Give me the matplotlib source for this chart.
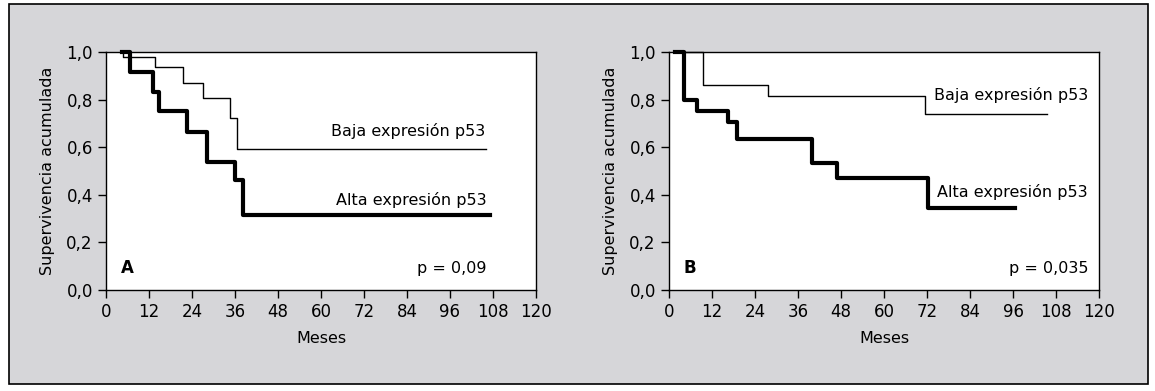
import matplotlib
matplotlib.use("Agg")
import matplotlib.pyplot as plt
from matplotlib.patches import Rectangle

plt.rcParams['font.family'] = ['DejaVu Sans']

# Kaplan-Meier steps (months, cumulative survival)
a_baja_t = [4.4, 4.8, 13.7, 21.6, 27.2, 34.6, 36.6, 106.0]
a_baja_s = [1.0, 0.978, 0.936, 0.868, 0.805, 0.721, 0.592, 0.592]
a_alta_t = [4.4, 6.7, 13.2, 14.9, 22.5, 28.3, 36.0, 38.3, 107.2]
a_alta_s = [1.0, 0.917, 0.833, 0.753, 0.665, 0.539, 0.462, 0.315, 0.315]

b_baja_t = [1.7, 9.6, 27.7, 71.4, 105.4]
b_baja_s = [1.0, 0.861, 0.815, 0.739, 0.739]
b_alta_t = [1.7, 4.2, 7.9, 16.5, 18.9, 39.8, 46.8, 72.4, 96.6]
b_alta_s = [1.0, 0.798, 0.753, 0.707, 0.633, 0.535, 0.472, 0.343, 0.343]

x_ticks = list(range(0, 121, 12))
y_ticks = [0.0, 0.2, 0.4, 0.6, 0.8, 1.0]
y_labels = ["0,0", "0,2", "0,4", "0,6", "0,8", "1,0"]

panels = [
    dict(left=106, baja=(a_baja_t, a_baja_s), alta=(a_alta_t, a_alta_s),
         letter="A", p="p = 0,09", baja_xy=(105.8, 0.668), alta_xy=(106.3, 0.378)),
    dict(left=669, baja=(b_baja_t, b_baja_s), alta=(b_alta_t, b_alta_s),
         letter="B", p="p = 0,035", baja_xy=(116.9, 0.82), alta_xy=(116.9, 0.41)),
]

W, H = 1155, 391
fig = plt.figure(figsize=(W / 100, H / 100), dpi=100)
fig.patch.set_facecolor("white")
# gray framed panel behind both plots
fig.patches.append(Rectangle((9 / W, 1 - 384 / H), (1148 - 9) / W, (384 - 4) / H,
                             transform=fig.transFigure, facecolor="#d6d6d9",
                             edgecolor="black", linewidth=1.2, zorder=-10))

for p in panels:
    ax = fig.add_axes([p["left"] / W, 1 - 290 / H, 430 / W, 238 / H])
    ax.set_zorder(5)
    ax.set_facecolor("white")
    ax.step(*p["baja"], where="post", color="black", lw=1.0, clip_on=False)
    ax.step(*p["alta"], where="post", color="black", lw=3.0, clip_on=False)
    ax.set_xlim(0, 120)
    ax.set_ylim(0, 1.0)
    ax.set_xticks(x_ticks)
    ax.set_yticks(y_ticks)
    ax.set_yticklabels(y_labels)
    ax.tick_params(direction="out", length=6, width=1, labelsize=12, color="black")
    for s in ax.spines.values():
        s.set_linewidth(1.0)
        s.set_color("black")
    ax.set_xlabel("Meses", fontsize=11.5, labelpad=7)
    ax.set_ylabel("Supervivencia acumulada", fontsize=11.5, labelpad=8)
    ax.text(*p["baja_xy"], "Baja expresión p53", ha="right", va="center", fontsize=11.5)
    ax.text(*p["alta_xy"], "Alta expresión p53", ha="right", va="center", fontsize=11.5)
    ax.text(5.9, 0.092, p["letter"], ha="center", va="center", fontsize=12, fontweight="bold")
    ax.text(p["baja_xy"][0] + 0.3, 0.092, p["p"], ha="right", va="center", fontsize=11.5)

fig.savefig("out.png", dpi=100)
